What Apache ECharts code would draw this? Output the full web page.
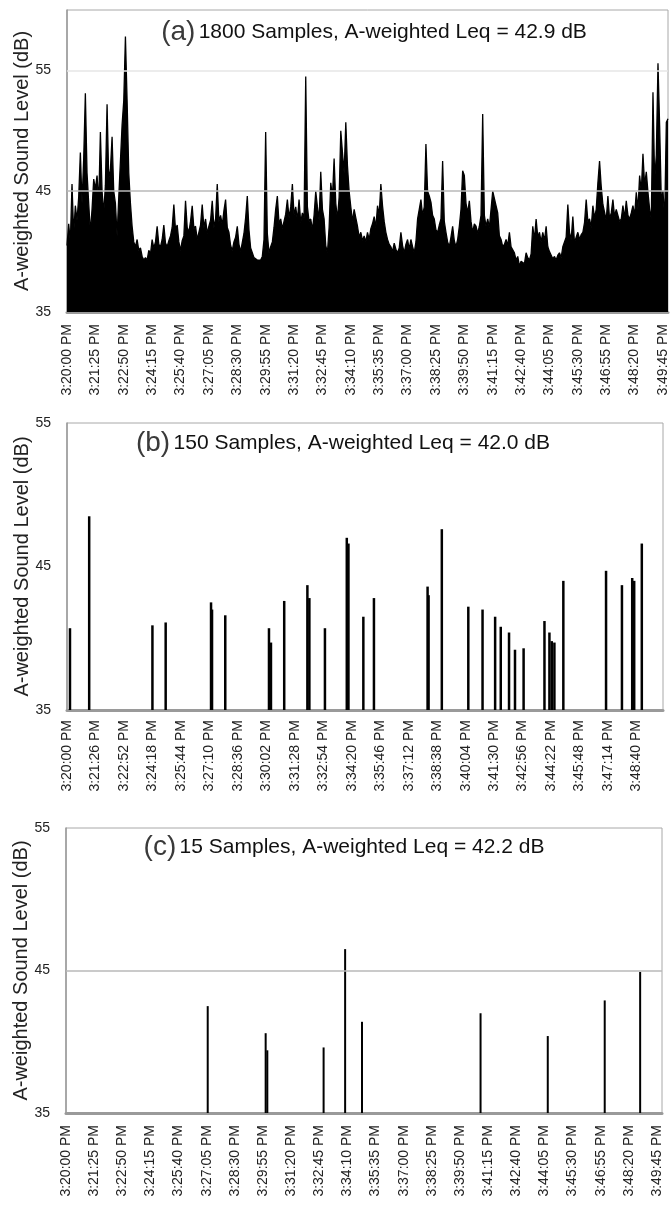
<!DOCTYPE html>
<html>
<head>
<meta charset="utf-8">
<script src="https://cdn.jsdelivr.net/npm/echarts@6/dist/echarts.min.js"></script>
<style>
html,body{margin:0;padding:0;background:#fff;}
#c{width:670px;height:1208px;}
</style>
</head>
<body>
<div id="c"></div>
<script>
// ---------- tick labels ----------
const ticksA = ['3:20:00 PM','3:21:25 PM','3:22:50 PM','3:24:15 PM','3:25:40 PM','3:27:05 PM','3:28:30 PM','3:29:55 PM','3:31:20 PM','3:32:45 PM','3:34:10 PM','3:35:35 PM','3:37:00 PM','3:38:25 PM','3:39:50 PM','3:41:15 PM','3:42:40 PM','3:44:05 PM','3:45:30 PM','3:46:55 PM','3:48:20 PM','3:49:45 PM'];
const ticksB = ['3:20:00 PM','3:21:26 PM','3:22:52 PM','3:24:18 PM','3:25:44 PM','3:27:10 PM','3:28:36 PM','3:30:02 PM','3:31:28 PM','3:32:54 PM','3:34:20 PM','3:35:46 PM','3:37:12 PM','3:38:38 PM','3:40:04 PM','3:41:30 PM','3:42:56 PM','3:44:22 PM','3:45:48 PM','3:47:14 PM','3:48:40 PM'];
const ticksC = ['3:20:00 PM','3:21:25 PM','3:22:50 PM','3:24:15 PM','3:25:40 PM','3:27:05 PM','3:28:30 PM','3:29:55 PM','3:31:20 PM','3:32:45 PM','3:34:10 PM','3:35:35 PM','3:37:00 PM','3:38:25 PM','3:39:50 PM','3:41:15 PM','3:42:40 PM','3:44:05 PM','3:45:30 PM','3:46:55 PM','3:48:20 PM','3:49:45 PM'];
const tickStepA = 85;   // seconds between labels
const tickStepB = 86;
const tickStepC = 85;
const durationSec = 1800;

// ---------- titles ----------
const titleA = ['(a)', '1800 Samples, A-weighted Leq = 42.9 dB'];
const titleB = ['(b)', '150 Samples, A-weighted Leq = 42.0 dB'];
const titleC = ['(c)', '15 Samples, A-weighted Leq = 42.2 dB'];
const yName = 'A-weighted Sound Level (dB)';

// ---------- (a) 1800 samples, read every 5 s ----------
const sampleStepA = 5;
const levelsA = [
  40.5,42.3,40.8,45.6,41.5,43.8,42.6,44.5,48.2,44.0,47.7,53.1,
  46.5,44.0,41.6,43.5,46.0,45.2,46.3,44.0,49.9,45.0,43.2,45.5,
  52.2,46.0,46.8,49.5,45.0,44.0,41.3,44.5,47.5,50.5,52.5,57.8,
  52.5,46.5,44.0,42.1,40.8,40.4,41.0,40.1,40.3,39.6,39.3,39.5,
  39.3,40.1,39.8,41.0,40.3,40.8,42.1,40.6,40.4,41.0,42.2,40.7,
  40.4,40.9,41.3,42.0,43.9,41.8,42.2,40.8,40.1,40.9,41.3,44.2,
  42.0,41.6,42.5,43.8,41.9,42.1,41.0,41.6,42.2,43.9,42.0,42.7,
  41.5,42.1,42.6,44.2,42.0,42.7,45.6,42.5,43.0,42.2,43.4,44.3,
  42.0,41.6,40.5,40.1,40.8,41.2,42.1,40.6,40.0,39.9,41.5,42.8,
  44.6,41.8,40.3,39.9,39.5,39.6,39.3,39.4,39.3,39.6,41.0,49.9,
  41.5,39.9,40.4,40.8,42.0,43.5,44.6,42.3,42.7,41.9,42.5,43.1,
  44.3,42.8,43.7,45.6,43.0,43.7,42.6,44.3,42.4,43.2,42.8,54.5,
  43.7,42.5,42.7,41.8,43.0,45.0,43.7,42.6,46.6,43.5,42.7,40.5,
  39.9,42.0,45.7,44.5,47.7,44.0,42.7,44.5,50.0,48.2,46.5,50.7,
  47.1,45.0,43.7,42.5,43.5,42.8,42.1,41.2,41.6,40.9,41.3,40.8,
  41.6,41.0,41.9,42.3,42.9,42.0,43.8,43.0,45.6,43.8,42.5,41.6,
  41.0,40.6,40.4,40.0,40.7,40.2,39.9,40.3,41.6,40.5,39.9,40.6,
  41.0,40.2,41.0,40.4,39.9,40.8,42.7,43.5,44.3,43.0,43.7,48.9,
  45.0,44.6,44.1,43.0,42.7,41.8,41.6,42.2,42.7,47.5,42.5,41.6,
  40.8,40.4,41.2,42.1,40.9,40.4,41.0,42.1,43.5,46.7,46.3,44.0,
  43.2,44.2,42.5,41.6,42.3,42.1,41.5,42.1,43.0,51.4,43.0,42.1,
  42.7,42.0,43.5,45.0,44.9,43.8,43.2,41.3,41.0,40.4,40.6,41.0,
  40.5,41.6,40.4,40.4,39.9,39.3,39.6,38.8,39.2,39.3,39.0,39.9,
  39.5,39.3,39.8,42.1,41.0,42.7,41.2,41.6,40.8,41.6,40.9,42.1,
  40.4,40.0,39.9,39.4,39.6,39.3,39.7,39.9,39.5,40.4,40.8,41.2,
  43.9,41.6,41.0,42.9,40.7,41.2,41.6,41.0,41.4,41.6,42.4,44.3,
  42.5,42.7,42.0,43.8,42.8,43.5,45.7,47.5,45.4,43.9,43.8,42.6,
  44.6,42.7,43.2,44.3,42.9,43.5,43.5,42.5,42.7,43.8,42.8,44.2,
  43.0,42.7,43.2,43.8,43.0,44.9,43.5,46.3,45.0,48.1,45.5,46.6,
  44.9,43.5,42.7,53.2,45.9,48.0,55.6,50.4,44.2,45.0,42.7,50.7,
  51.0
];

// ---------- (b) 150 samples (time in s from 3:20:00, level dB) ----------
const timesB = [9,67,258,298,435,438,478,610,616,656,726,732,779,845,850,895,927,1089,1092,1132,1212,1255,1293,1310,1335,1353,1379,1442,1457,1464,1472,1499,1628,1676,1707,1713,1736];
const levelsB = [40.7,48.5,40.9,41.1,42.5,42.0,41.6,40.7,39.7,42.6,43.7,42.8,40.7,47.0,46.6,41.5,42.8,43.6,43.0,47.6,42.2,42.0,41.5,40.8,40.4,39.2,39.3,41.2,40.4,39.8,39.7,44.0,44.7,43.7,44.2,44.0,46.6];

// ---------- (c) 15 samples ----------
const timesC = [428,603,608,778,843,894,1252,1455,1627,1734];
const levelsC = [42.5,40.6,39.4,39.6,46.5,41.4,42.0,40.4,42.9,44.9];

// ---------- build ----------
const FONT = "'Liberation Sans', Arial, Helvetica, sans-serif";
const pointsA = levelsA.map((v, i) => [i * sampleStepA, v]);
const pointsB = timesB.map((t, i) => [t, levelsB[i]]);
const pointsC = timesC.map((t, i) => [t, levelsC[i]]);

function tickFormatter(labels, step) {
  return function (v) {
    const i = Math.round(v / step);
    if (Math.abs(v - i * step) > 1e-6 || i < 0 || i >= labels.length) return '';
    return labels[i];
  };
}

function xAxis(gi, labels, step, margin) {
  return {
    gridIndex: gi, type: 'value', min: 0, max: durationSec, interval: step,
    axisLine: { show: true, onZero: false, lineStyle: { color: '#9a9a9a', width: 3 } },
    axisTick: { show: false },
    splitLine: { show: false },
    axisLabel: {
      rotate: 90, fontSize: 14, margin: margin, color: '#222', fontFamily: FONT,
      showMaxLabel: false, showMinLabel: true,
      formatter: tickFormatter(labels, step)
    }
  };
}

function yAxis(gi, max) {
  return {
    gridIndex: gi, type: 'value', min: 35, max: max, interval: 10,
    axisLine: { show: true, lineStyle: { color: '#9a9a9a', width: 1.5 } },
    axisTick: { show: false },
    splitLine: { show: false },
    axisLabel: { fontSize: 14, margin: 16, color: '#222', fontFamily: FONT, showMaxLabel: max === 55 },
    name: yName, nameLocation: 'middle', nameGap: 35, nameRotate: 90, nameMoveOverlap: false,
    nameTextStyle: { fontSize: 20, color: '#222', fontFamily: FONT }
  };
}

function refLine(gi, value, color, width) {
  return {
    type: 'line', xAxisIndex: gi, yAxisIndex: gi, data: [], z: 1, silent: true,
    markLine: {
      silent: true, symbol: 'none', animation: false,
      label: { show: false },
      lineStyle: { color: color, width: width, type: 'solid' },
      data: [{ yAxis: value }]
    }
  };
}

function titleText(t, x, y) {
  return {
    type: 'text', x: x, y: y, z: 100,
    style: {
      text: '{p|' + t[0] + '} {t|' + t[1] + '}',
      align: 'center', verticalAlign: 'middle',
      rich: {
        p: { fontSize: 28, fontFamily: FONT, fill: '#3a3a3a', color: '#3a3a3a' },
        t: { fontSize: 21, fontFamily: FONT, fill: '#111', color: '#111' }
      }
    }
  };
}

const gridBase = { show: true, borderColor: '#a8a8a8', borderWidth: 1, containLabel: false, outerBoundsMode: 'none' };

const chart = echarts.init(document.getElementById('c'), null, { renderer: 'canvas', width: 670, height: 1208 });
chart.setOption({
  animation: false,
  backgroundColor: '#fff',
  grid: [
    Object.assign({ left: 67, top: 10, width: 601, height: 302 }, gridBase),
    Object.assign({ left: 67, top: 423, width: 596, height: 287 }, gridBase),
    Object.assign({ left: 66, top: 828, width: 596, height: 285 }, gridBase)
  ],
  xAxis: [
    xAxis(0, ticksA, tickStepA, 12),
    xAxis(1, ticksB, tickStepB, 10),
    xAxis(2, ticksC, tickStepC, 12)
  ],
  yAxis: [yAxis(0, 60), yAxis(1, 55), yAxis(2, 55)],
  graphic: [
    titleText(titleA, 374, 32),
    titleText(titleB, 343, 443),
    titleText(titleC, 344, 847)
  ],
  series: [
    refLine(0, 55, '#e6e6e6', 1.5),
    refLine(0, 45, '#b8b8b8', 1.5),
    refLine(2, 45, '#b8b8b8', 1.5),
    {
      type: 'line', xAxisIndex: 0, yAxisIndex: 0, data: pointsA, z: 3,
      symbol: 'none', silent: true,
      lineStyle: { color: '#000', width: 1.3 },
      areaStyle: { color: '#000', origin: 'start', opacity: 1 }
    },
    {
      type: 'bar', xAxisIndex: 1, yAxisIndex: 1, data: pointsB, z: 3,
      barWidth: 2.5, silent: true, itemStyle: { color: '#000' }
    },
    {
      type: 'bar', xAxisIndex: 2, yAxisIndex: 2, data: pointsC, z: 3,
      barWidth: 2, silent: true, itemStyle: { color: '#000' }
    }
  ]
});
</script>
</body>
</html>
